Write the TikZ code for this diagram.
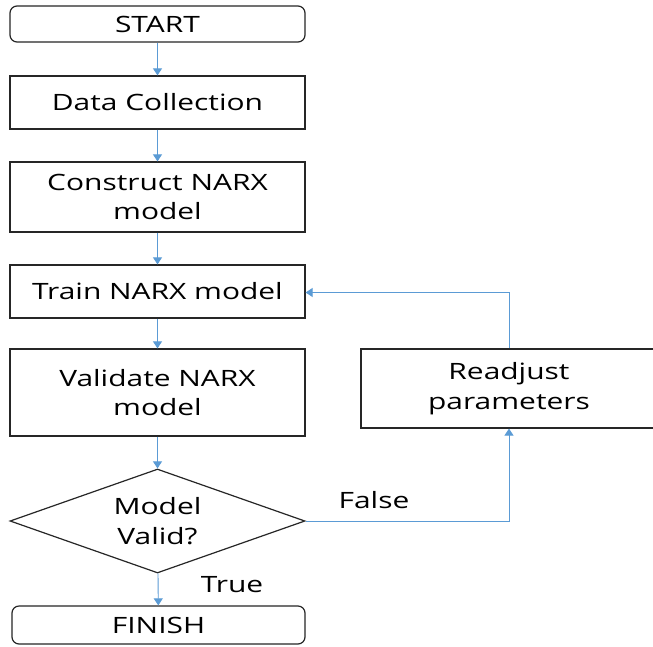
\documentclass[tikz,border=0pt]{standalone}
\usepackage{fontspec}
\setmainfont{Open Sans}[FakeStretch=1.33]
\usetikzlibrary{shapes.geometric,arrows.meta}
\definecolor{flowblue}{HTML}{5B9BD5}
\begin{document}
\begin{tikzpicture}[x=1pt,y=-1pt,
  every node/.style={font=\fontsize{22.5}{29.3}\selectfont, align=center, inner sep=0pt},
  procbox/.style={draw=black!85, line width=1.2pt, rectangle, minimum width=295pt},
  termbox/.style={procbox, rounded corners=7pt},
  decision/.style={draw=black!85, line width=1.2pt, diamond, shape aspect=2.84,
    minimum width=295pt, minimum height=104pt},
  flow/.style={draw=flowblue, line width=0.9pt, -{Triangle[width=9pt,length=7pt]}}]
\useasboundingbox (0,0) rectangle (653,646);
\fill[white] (0,0) rectangle (653,646);

\node[termbox, minimum height=36pt] (start) at (157.5,24) {START};
\node[procbox, minimum height=53pt] (data) at (157.5,102.5) {Data Collection};
\node[procbox, minimum height=70pt] (construct) at (157.5,197) {Construct NARX\\model};
\node[procbox, minimum height=53pt] (train) at (157.5,291.5) {Train NARX model};
\node[procbox, minimum height=87pt] (validate) at (157.5,392.5) {Validate NARX\\model};
\node[decision] (valid) at (157.5,521) {Model\\Valid?};
\node[termbox, minimum width=293pt, minimum height=38pt] (finish) at (158.5,625) {FINISH};
\node[procbox, minimum width=296pt, minimum height=79pt] (readjust) at (509,388.5) {Readjust\\parameters};

\coordinate (turnup) at (509,292.5);
\coordinate (turnfalse) at (509,521);

\draw[flow] (start) -- (data);
\draw[flow] (data) -- (construct);
\draw[flow] (construct) -- (train);
\draw[flow] (train) -- (validate);
\draw[flow] (validate) -- (valid);
\draw[flow] (valid) -- (finish);
\draw[flow] (valid.east) -- (turnfalse) -- (readjust.south);
\draw[flow] (readjust.north) -- (turnup) -- (train.east |- turnup);

\node (falselbl) at (374,500) {False};
\node (truelbl) at (232,585) {True};
\end{tikzpicture}
\end{document}
